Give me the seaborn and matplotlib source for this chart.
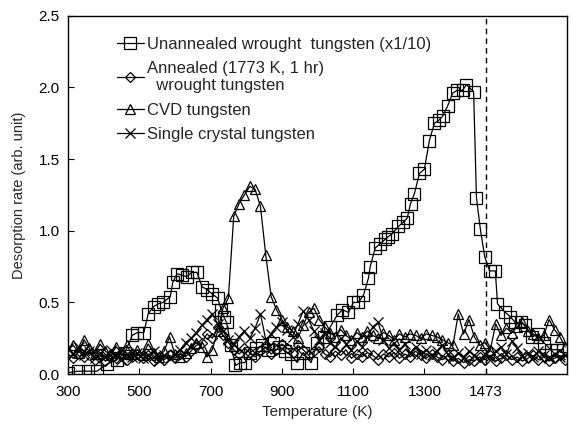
import numpy as np
import pandas as pd
import matplotlib
matplotlib.use("Agg")
import matplotlib.pyplot as plt
import seaborn as sns

# ---------------- data ----------------
T_unannealed = [300, 328, 356, 381, 410, 437, 460, 480, 495, 513, 525, 540, 553, 567, 587, 594,
                606, 620, 633, 648, 662, 676, 690, 704, 720, 730, 737, 745, 757, 770, 783, 796,
                812, 828, 845, 860, 876, 892, 908, 925, 943, 960, 982, 1000, 1018, 1036, 1055,
                1070, 1087, 1101, 1115, 1129, 1143, 1148, 1162, 1176, 1190, 1199, 1210, 1227,
                1241, 1252, 1261, 1272, 1286, 1300, 1314, 1328, 1340, 1351, 1365, 1379, 1392,
                1407, 1418, 1438, 1446, 1457, 1469, 1483, 1499, 1505, 1527, 1541, 1555, 1570,
                1583, 1603, 1620, 1635, 1654, 1673, 1690]
unannealed = [0.01, 0.02, 0.02, 0.02, 0.07, 0.10, 0.15, 0.27, 0.29, 0.29, 0.42, 0.47, 0.49, 0.50,
              0.54, 0.64, 0.70, 0.69, 0.68, 0.71, 0.71, 0.61, 0.59, 0.56, 0.53, 0.45, 0.40, 0.36,
              0.20, 0.06, 0.08, 0.08, 0.15, 0.18, 0.20, 0.17, 0.22, 0.19, 0.16, 0.14, 0.08, 0.15,
              0.08, 0.22, 0.26, 0.33, 0.41, 0.45, 0.43, 0.50, 0.50, 0.55, 0.67, 0.75, 0.88, 0.91,
              0.94, 0.96, 0.98, 1.03, 1.06, 1.09, 1.19, 1.26, 1.40, 1.43, 1.63, 1.75, 1.77, 1.80,
              1.87, 1.96, 1.98, 1.98, 2.02, 1.97, 1.23, 1.01, 0.82, 0.72, 0.72, 0.49, 0.43, 0.40,
              0.36, 0.36, 0.34, 0.26, 0.28, 0.22, 0.17, 0.17, 0.17]

T_grid = [300, 315, 330, 345, 360, 375, 390, 405, 420, 435, 450, 465, 480, 495, 510, 525, 540,
          555, 570, 585, 600, 615, 630, 645, 660, 675, 690, 705, 720, 735, 750, 765, 780, 795,
          810, 825, 840, 855, 870, 885, 900, 915, 930, 945, 960, 975, 990, 1005, 1020, 1035,
          1050, 1065, 1080, 1095, 1110, 1125, 1140, 1155, 1170, 1185, 1200, 1215, 1230, 1245,
          1260, 1275, 1290, 1305, 1320, 1335, 1350, 1365, 1380, 1395, 1410, 1425, 1440, 1455,
          1470, 1485, 1500, 1515, 1530, 1545, 1560, 1575, 1590, 1605, 1620, 1635, 1650, 1665,
          1680, 1695]

annealed = [0.14, 0.11, 0.16, 0.12, 0.17, 0.10, 0.14, 0.09, 0.13, 0.11, 0.15, 0.10, 0.12, 0.14,
            0.11, 0.13, 0.09, 0.12, 0.10, 0.13, 0.11, 0.14, 0.12, 0.16, 0.20, 0.22, 0.28, 0.25,
            0.33, 0.27, 0.22, 0.17, 0.14, 0.18, 0.15, 0.12, 0.16, 0.19, 0.14, 0.17, 0.21, 0.18,
            0.15, 0.20, 0.17, 0.13, 0.16, 0.19, 0.14, 0.12, 0.16, 0.13, 0.17, 0.11, 0.14, 0.12,
            0.15, 0.13, 0.10, 0.14, 0.12, 0.15, 0.11, 0.14, 0.12, 0.16, 0.13, 0.11, 0.14, 0.12,
            0.10, 0.13, 0.09, 0.11, 0.08, 0.10, 0.09, 0.12, 0.10, 0.13, 0.09, 0.11, 0.13, 0.10,
            0.12, 0.09, 0.11, 0.13, 0.10, 0.12, 0.09, 0.11, 0.13, 0.10]

cvd = [0.17, 0.20, 0.15, 0.24, 0.18, 0.14, 0.21, 0.16, 0.13, 0.19, 0.15, 0.20, 0.14, 0.17,
       0.13, 0.21, 0.15, 0.12, 0.16, 0.26, 0.14, 0.12, 0.15, 0.18, 0.22, 0.19, 0.12, 0.17,
       0.30, 0.46, 0.53, 1.10, 1.19, 1.25, 1.31, 1.29, 1.17, 0.83, 0.54, 0.45, 0.38, 0.33,
       0.30, 0.25, 0.34, 0.43, 0.46, 0.38, 0.33, 0.29, 0.26, 0.31, 0.27, 0.24, 0.29, 0.26,
       0.30, 0.27, 0.25, 0.29, 0.27, 0.24, 0.28, 0.26, 0.28, 0.27, 0.25, 0.28, 0.27, 0.26,
       0.24, 0.22, 0.20, 0.42, 0.28, 0.38, 0.26, 0.20, 0.22, 0.17, 0.35, 0.27, 0.32, 0.29,
       0.33, 0.36, 0.30, 0.28, 0.25, 0.27, 0.38, 0.31, 0.26, 0.19]

single = [0.18, 0.14, 0.19, 0.13, 0.16, 0.11, 0.15, 0.12, 0.17, 0.13, 0.10, 0.14, 0.12, 0.15,
          0.11, 0.13, 0.16, 0.10, 0.13, 0.11, 0.14, 0.17, 0.22, 0.25, 0.29, 0.34, 0.38, 0.42,
          0.35, 0.30, 0.24, 0.21, 0.26, 0.30, 0.25, 0.32, 0.42, 0.24, 0.28, 0.33, 0.36, 0.31,
          0.26, 0.35, 0.44, 0.38, 0.30, 0.24, 0.29, 0.22, 0.19, 0.25, 0.21, 0.17, 0.23, 0.19,
          0.26, 0.33, 0.36, 0.24, 0.18, 0.22, 0.17, 0.21, 0.15, 0.19, 0.14, 0.17, 0.13, 0.16,
          0.20, 0.14, 0.11, 0.15, 0.12, 0.16, 0.13, 0.10, 0.14, 0.12, 0.16, 0.19, 0.14, 0.23,
          0.18, 0.13, 0.15, 0.12, 0.16, 0.13, 0.11, 0.14, 0.12, 0.13]

labels = ["Unannealed wrought  tungsten (x1/10)",
          "Annealed (1773 K, 1 hr)\n  wrought tungsten",
          "CVD tungsten",
          "Single crystal tungsten"]
x_ticks = [300, 500, 700, 900, 1100, 1300, 1473]
y_ticks = [0.0, 0.5, 1.0, 1.5, 2.0, 2.5]

# ---------------- plot ----------------
sns.set_style("ticks")
plt.rcParams["font.family"] = ["Liberation Sans", "DejaVu Sans"]

fig = plt.figure(figsize=(5.71, 4.28), dpi=100)
ax = fig.add_axes([0.119, 0.126, 0.874, 0.837])

series = [
    (T_unannealed, unannealed, "s", 8),
    (T_grid, annealed, "D", 5),
    (T_grid, cvd, "^", 7.5),
    (T_grid, single, "x", 7),
]
for (xs, ys, mk, ms), lab in zip(series, labels):
    sns.lineplot(x=xs, y=ys, ax=ax, color="black", linewidth=0.9, marker=mk,
                 markersize=ms, markerfacecolor="none", markeredgecolor="black",
                 markeredgewidth=0.9, label=lab, sort=False)

ax.axvline(1473, color="black", linestyle=(0, (4, 3)), linewidth=1.0)

ax.set_xlim(300, 1700)
ax.set_ylim(0, 2.5)
ax.set_xticks(x_ticks)
ax.set_xticklabels([str(t) for t in x_ticks])
ax.set_yticks(y_ticks)
ax.set_yticklabels([f"{v:.1f}" for v in y_ticks])
ax.tick_params(direction="in", length=4, width=0.8, labelsize=11, colors="black")
ax.tick_params(axis="x", pad=8)
ax.tick_params(axis="y", pad=6)
for s in ax.spines.values():
    s.set_visible(True)
    s.set_linewidth(1.0)
    s.set_color("black")

ax.set_xlabel("Temperature (K)", fontsize=11, labelpad=4)
ax.set_ylabel("Desorption rate (arb. unit)", fontsize=10.5, labelpad=9)

leg = ax.legend(loc="upper left", bbox_to_anchor=(0.085, 0.96), frameon=False,
                fontsize=12, handlelength=1.6, handletextpad=0.2, labelspacing=0.55,
                borderaxespad=0)

fig.savefig("out.png", dpi=100)
